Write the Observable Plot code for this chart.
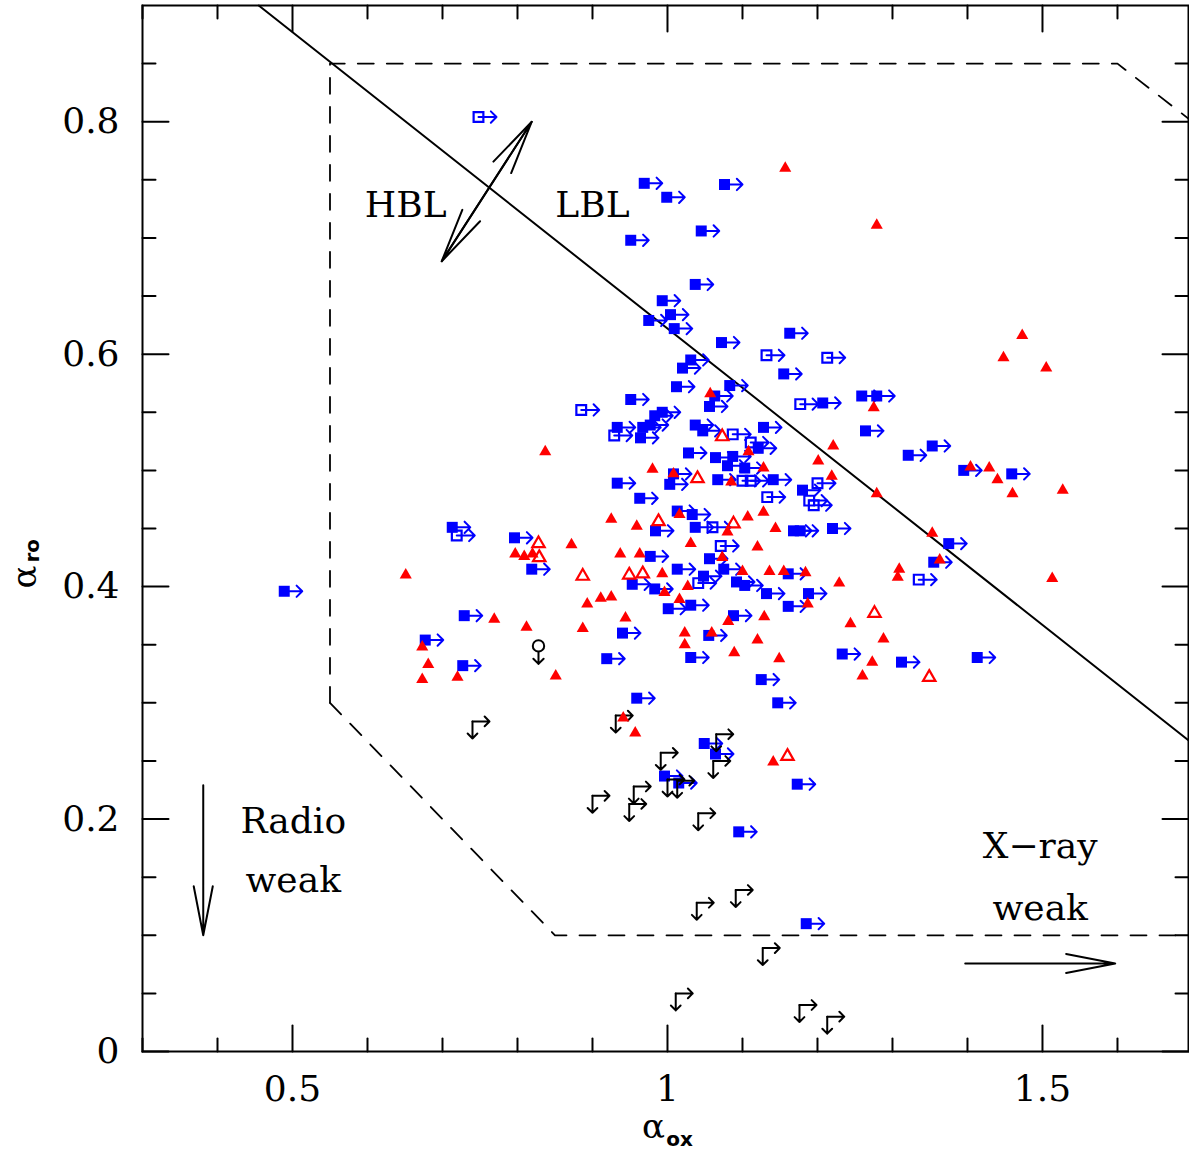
<!DOCTYPE html>
<html><head><meta charset="utf-8">
<script src="https://cdn.jsdelivr.net/npm/d3@7"></script>
<script src="https://cdn.jsdelivr.net/npm/@observablehq/plot@0.6"></script>
<style>body{margin:0;background:#fff}</style>
</head><body><div id="chart"></div>
<script>
// ---- data (alpha_ox, alpha_ro) ----
const blueFilled = [
[0.489,0.396],[0.677,0.354],[0.727,0.332],[0.713,0.451],[0.796,0.442],[0.819,0.415],[0.729,0.375],
[0.969,0.747],[0.999,0.735],[1.076,0.746],[1.045,0.706],[0.951,0.698],[1.037,0.660],
[0.993,0.646],[1.004,0.634],[0.975,0.629],[1.009,0.622],[1.163,0.618],[1.072,0.610],[1.031,0.595],[1.020,0.588],[1.155,0.583],[1.012,0.572],[1.083,0.573],[1.063,0.564],[0.951,0.561],[1.056,0.555],[0.993,0.550],[0.983,0.547],[0.933,0.537],[0.967,0.537],[0.977,0.539],[1.037,0.539],[1.047,0.534],[1.128,0.537],[0.964,0.528],
[1.207,0.558],[1.259,0.564],[1.279,0.564],[1.264,0.534],
[1.028,0.515],[1.064,0.511],[1.080,0.504],[1.087,0.512],[1.103,0.502],[1.008,0.497],[1.003,0.488],[0.933,0.489],[1.067,0.492],[0.963,0.476],[1.013,0.465],[1.033,0.462],[0.984,0.448],[1.037,0.451],[0.977,0.426],[1.056,0.424],[1.013,0.415],[1.075,0.415],
[1.353,0.521],[1.321,0.513],[1.121,0.519],[1.141,0.492],[1.180,0.483],[1.168,0.448],[1.177,0.448],[1.220,0.450],[1.355,0.421],[1.395,0.500],[1.459,0.497],[1.375,0.437],[1.413,0.339],
[0.953,0.402],[0.983,0.398],[1.048,0.409],[1.092,0.404],[1.103,0.401],[1.001,0.381],[1.031,0.384],[1.088,0.375],[0.940,0.360],[1.055,0.358],[0.919,0.338],[1.031,0.339],[0.959,0.304],
[1.161,0.411],[1.132,0.394],[1.188,0.394],[1.161,0.383],[1.233,0.342],[1.312,0.335],[1.125,0.320],[1.147,0.300],
[1.049,0.265],[1.064,0.256],[0.996,0.237],[1.015,0.231],[1.173,0.230],[1.095,0.189],[1.185,0.110]
];
const blueOpen = [
[0.748,0.804],[1.132,0.599],[1.213,0.597],[0.885,0.552],[1.177,0.557],[0.929,0.530],[1.087,0.531],[1.111,0.524],[1.100,0.491],[1.111,0.491],[1.200,0.489],[1.189,0.474],[1.195,0.470],[1.133,0.477],[1.060,0.451],[1.071,0.435],[1.041,0.403],[1.335,0.406],[0.719,0.444]
];
const redFilled = [
[1.157,0.760],[1.279,0.711],[1.473,0.616],[1.448,0.597],[1.505,0.588],[1.275,0.554],[1.057,0.566],[0.837,0.516],[0.797,0.428],[0.809,0.426],[0.820,0.428],[0.651,0.410],[0.769,0.372],[0.812,0.365],[1.108,0.516],[0.980,0.501],[1.008,0.497],[1.085,0.490],[1.016,0.462],[0.925,0.458],[0.959,0.452],[1.107,0.460],[1.080,0.447],[0.872,0.436],[1.031,0.437],[0.937,0.428],[0.963,0.428],[1.073,0.425],[1.221,0.521],[1.201,0.508],[1.128,0.502],[1.219,0.495],[1.279,0.480],[1.128,0.464],[1.144,0.450],[1.120,0.434],[1.353,0.446],[1.309,0.415],[1.307,0.408],[1.100,0.413],[1.136,0.413],[1.155,0.413],[1.184,0.412],[1.404,0.503],[1.429,0.502],[1.440,0.492],[1.460,0.480],[1.527,0.483],[1.363,0.423],[1.513,0.407],[0.993,0.411],[0.996,0.395],[1.027,0.400],[0.911,0.390],[0.925,0.391],[0.893,0.385],[1.016,0.389],[1.081,0.370],[0.944,0.373],[0.887,0.364],[1.059,0.360],[1.023,0.360],[1.023,0.350],[1.089,0.343],[0.851,0.323],[1.229,0.403],[1.187,0.385],[1.129,0.374],[1.244,0.368],[1.120,0.354],[1.288,0.355],[1.149,0.338],[1.273,0.335],[1.260,0.323],[0.673,0.348],[0.681,0.333],[0.673,0.320],[0.720,0.322],[0.941,0.287],[0.957,0.274],[1.141,0.249]
];
const redOpen = [
[1.073,0.529],[0.828,0.437],[0.829,0.425],[1.040,0.493],[0.988,0.456],[1.088,0.454],[0.887,0.409],[0.949,0.410],[0.967,0.411],[1.276,0.377],[1.349,0.322],[1.160,0.254]
];
const blackLimits = [
[0.740,0.284],[0.931,0.289],[1.065,0.273],[0.991,0.257],[1.061,0.250],[1.000,0.234],[1.013,0.233],[0.955,0.228],[0.900,0.220],[0.949,0.213],[1.041,0.205],[1.091,0.139],[1.039,0.128],[1.127,0.089],[1.011,0.050],[1.176,0.040],[1.213,0.030]
];
const blackCircle = [[0.828,0.349]];

// dividing line and region boundaries
const hblLblLine = [[0.455,0.9],[1.7,0.265]];
const regionUpper = [[0.55,0.3],[0.55,0.85],[1.6,0.85],[1.7,0.8]];
const regionLower = [[0.55,0.3],[0.85,0.1],[1.7,0.1]];

// annotation arrows [x1,y1,x2,y2]
const annotArrows = [
  [0.699,0.680,0.819,0.800],
  [0.819,0.800,0.699,0.680],
  [0.381,0.229,0.381,0.100],
  [1.397,0.0757,1.597,0.0757]
];
const annotText = ["HBL","LBL","Radio","weak","X\u2212ray","weak"];
const annotX = [0.651,0.900,0.501,0.501,1.497,1.497];
const annotY = [0.728,0.728,0.198,0.147,0.176,0.123];

// axis ticks
const xTicks = [0.5, 1, 1.5];
const yTicks = [0, 0.2, 0.4, 0.6, 0.8];
const xMinor = d3.range(3, 17).map(d => d / 10).filter(d => !xTicks.some(t => Math.abs(t - d) < 1e-9));
const yMinor = d3.range(0, 18).map(d => d / 20).filter(d => !yTicks.some(t => Math.abs(t - d) < 1e-9));

const X = d => d[0], Y = d => d[1];
const tickShape = {draw(ctx, l) { ctx.moveTo(0, 0); ctx.lineTo(0, -l); }};
const tickSet = (vals, dim, len) => {
  const o = {length: len, anchor: "start", shape: tickShape, strokeWidth: 2, stroke: "black"};
  if (dim === "x") return [
    Plot.vector(vals, {...o, x: d => d, frameAnchor: "bottom", rotate: 0}),
    Plot.vector(vals, {...o, x: d => d, frameAnchor: "top", rotate: 180})
  ];
  return [
    Plot.vector(vals, {...o, y: d => d, frameAnchor: "left", rotate: 90}),
    Plot.vector(vals, {...o, y: d => d, frameAnchor: "right", rotate: -90})
  ];
};

const arrowOpts = {length: 18, rotate: 90, anchor: "start", strokeWidth: 2, r: 5.5};

const chart = Plot.plot({
  width: 1189, height: 1158,
  marginLeft: 142, marginRight: 1, marginTop: 5, marginBottom: 107,
  x: {domain: [0.3, 1.6947]},
  y: {domain: [0, 0.9]},
  style: {fontFamily: "DejaVu Serif", background: "white", color: "black"},
  marks: [
    Plot.line(regionUpper, {x: X, y: Y, strokeWidth: 1.8, strokeDasharray: "16,13"}),
    Plot.line(regionLower, {x: X, y: Y, strokeWidth: 1.8, strokeDasharray: "16,13"}),
    Plot.line(hblLblLine, {x: X, y: Y, strokeWidth: 2}),
    Plot.arrow(annotArrows, {x1: d => d[0], y1: d => d[1], x2: d => d[2], y2: d => d[3], headAngle: 22, headLength: 42, strokeWidth: 2}),
    Plot.text(annotText, {x: (d, i) => annotX[i], y: (d, i) => annotY[i], text: d => d, fontSize: 36}),
    // blue open squares (lower limits on alpha_ox)
    Plot.vector(blueOpen, {...arrowOpts, x: X, y: Y, stroke: "#0000ff"}),
    Plot.dot(blueOpen, {x: X, y: Y, symbol: "square", r: 5.5, stroke: "#0000ff", strokeWidth: 2.2, fill: "none"}),
    // blue filled squares
    Plot.vector(blueFilled, {...arrowOpts, x: X, y: Y, stroke: "#0000ff"}),
    Plot.dot(blueFilled, {x: X, y: Y, symbol: "square", r: 6.2, fill: "#0000ff", stroke: "none"}),
    // black limits
    Plot.vector(blackLimits, {...arrowOpts, length: 17, x: X, y: Y, stroke: "black", r: 5}),
    Plot.vector(blackLimits, {...arrowOpts, length: 17, rotate: 180, x: X, y: Y, stroke: "black", r: 5}),
    Plot.vector(blackCircle, {...arrowOpts, length: 18, rotate: 180, x: X, y: Y, stroke: "black", r: 5}),
    Plot.dot(blackCircle, {x: X, y: Y, r: 5.7, stroke: "black", strokeWidth: 2, fill: "white"}),
    // red triangles
    Plot.dot(redOpen, {x: X, y: Y, symbol: "triangle", r: 4.6, stroke: "#ff0000", strokeWidth: 2.2, fill: "none"}),
    Plot.dot(redFilled, {x: X, y: Y, symbol: "triangle", r: 4.5, fill: "#ff0000", stroke: "none"}),
    // axes
    ...tickSet(xTicks, "x", 26),
    ...tickSet(xMinor, "x", 13),
    ...tickSet(yTicks, "y", 26),
    ...tickSet(yMinor, "y", 13),
    Plot.axisX(xTicks, {anchor: "bottom", tickSize: 0, tickPadding: 24, tickFormat: d => String(d), fontSize: 36, label: null}),
    Plot.axisY(yTicks, {anchor: "left", tickSize: 0, tickPadding: 23, tickFormat: d => String(d), fontSize: 36, label: null}),
    Plot.text(["\u03b1"], {frameAnchor: "bottom", dx: -12, dy: 86, fontSize: 34}),
    Plot.text(["ox"], {frameAnchor: "bottom", dx: 14, dy: 94, fontSize: 20, fontWeight: "bold", fontFamily: "DejaVu Sans"}),
    Plot.text(["\u03b1"], {frameAnchor: "left", dx: -117, dy: 60, rotate: -90, fontSize: 34}),
    Plot.text(["ro"], {frameAnchor: "left", dx: -110, dy: 34, rotate: -90, fontSize: 20, fontWeight: "bold", fontFamily: "DejaVu Sans"}),
    Plot.frame({strokeWidth: 2})
  ]
});
document.getElementById("chart").appendChild(chart);
</script>
</body></html>
